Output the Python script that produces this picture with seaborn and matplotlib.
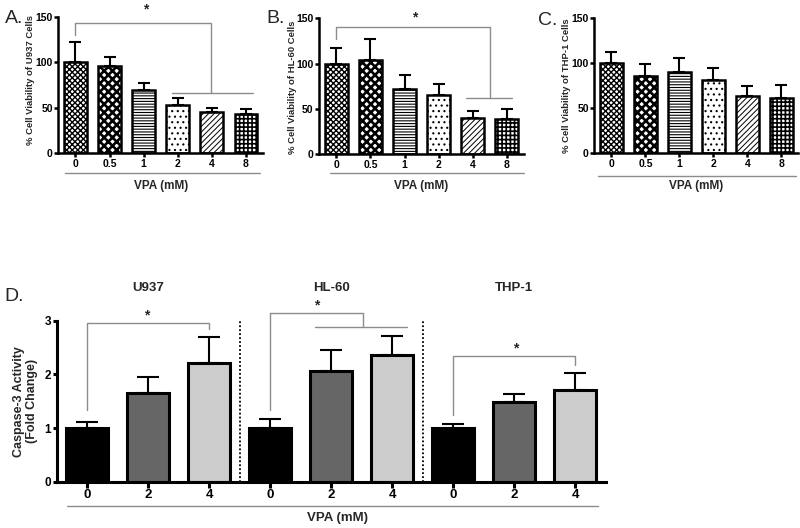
import matplotlib
matplotlib.use('Agg')
import matplotlib.pyplot as plt
import seaborn as sns
import numpy as np
import pandas as pd

# panels A-C: cell viability (%) vs VPA dose
doses = ['0', '0.5', '1', '2', '4', '8']
u937_viab = [100, 96, 69, 53.5, 45, 43.6]
u937_err = [22.7, 10, 8.6, 7, 4.5, 5.1]
hl60_viab = [100, 104, 72.2, 65.2, 40.2, 39]
hl60_err = [16.8, 22.6, 14.8, 12.2, 7.8, 11]
thp1_viab = [100, 86, 89.6, 80.7, 63, 61.5]
thp1_err = [12.6, 13.3, 15.9, 13.7, 11.8, 14.5]

# panel D: caspase-3 activity (fold change)
casp_cells = ['U937', 'HL-60', 'THP-1']
casp_doses = ['0', '2', '4']
casp_u937 = [1.0, 1.66, 2.22]
casp_u937_err = [0.12, 0.29, 0.47]
casp_hl60 = [1.0, 2.07, 2.36]
casp_hl60_err = [0.16, 0.38, 0.35]
casp_thp1 = [1.0, 1.49, 1.71]
casp_thp1_err = [0.08, 0.14, 0.31]

sns.set_theme(style='ticks')
plt.rcParams['font.family'] = ['Liberation Sans', 'DejaVu Sans']
plt.rcParams['font.weight'] = 'bold'
plt.rcParams['axes.labelweight'] = 'bold'
plt.rcParams['hatch.linewidth'] = 0.8

# one hatch (and hatch line width) per dose
hatches = ['xxxxxx', 'xxxx', '------', '...', '//////', '++++']
hatch_lws = [1.0, 1.9, 0.8, 0.8, 0.7, 1.2]
GRAY = '#8c8c8c'

fig = plt.figure(figsize=(8, 5.28), dpi=100)
fig.patch.set_facecolor('white')


def style_axis(ax, lw=1.8):
    sns.despine(ax=ax)
    for s in ['left', 'bottom']:
        ax.spines[s].set_linewidth(lw)
        ax.spines[s].set_color('black')
    ax.tick_params(axis='both', direction='out', width=lw, length=3, pad=1,
                   color='black', labelcolor='black')


def under_line(ax, x0, x1, y):
    ax.plot([x0, x1], [y, y], transform=ax.transAxes, color=GRAY, lw=1, clip_on=False)


def bracket(ax, xs, ys):
    ax.plot(xs, ys, color=GRAY, lw=1, clip_on=False)


def viability_panel(ax, values, errs, ylabel, lab_x, lab_y):
    df = pd.DataFrame({'dose': doses, 'viability': values})
    sns.barplot(data=df, x='dose', y='viability', order=doses, color='white',
                edgecolor='black', linewidth=1.8, width=0.67, errorbar=None,
                saturation=1, ax=ax)
    for bar, h, hlw in zip(ax.patches, hatches, hatch_lws):
        bar.set_hatch(h)
        bar.set_facecolor('white')
        if hasattr(bar, 'set_hatch_linewidth'):
            bar.set_hatch_linewidth(hlw)
    ax.errorbar(np.arange(len(doses)), values,
                yerr=[np.zeros(len(values)), errs], fmt='none', ecolor='black',
                elinewidth=1.5, capsize=4.4, capthick=1.5, zorder=0.5)
    ax.set_ylim(0, 150)
    ax.set_yticks([0, 50, 100, 150])
    ax.set_xlim(-0.5, 5.5)
    style_axis(ax)
    ax.tick_params(labelsize=7.5)
    ax.set_xlabel('VPA (mM)', fontsize=8.5, va='top')
    ax.xaxis.set_label_coords(0.5, -0.195)
    ax.set_ylabel(ylabel, fontsize=6.8)
    ax.yaxis.set_label_coords(lab_x, lab_y)


# A
axA = fig.add_axes([0.0729, 0.7097, 0.256, 0.2587])
viability_panel(axA, u937_viab, u937_err, '% Cell Viability of U937 Cells', -0.112, 0.54)
under_line(axA, 0.033, 0.985, -0.144)
bracket(axA, [0, 0, 3.96, 3.96], [130, 143.6, 143.6, 66.7])
bracket(axA, [2.83, 5.19], [66.7, 66.7])
axA.text(2.05, 158, '*', ha='center', va='center', fontsize=10)

# B
axB = fig.add_axes([0.399, 0.7083, 0.256, 0.257])
viability_panel(axB, hl60_viab, hl60_err, '% Cell Viability of HL-60 Cells', -0.108, 0.49)
under_line(axB, 0.054, 0.998, -0.14)
bracket(axB, [0, 0, 4.49, 4.49], [126.8, 140.8, 140.8, 61.6])
bracket(axB, [3.8, 5.15], [61.6, 61.6])
axB.text(2.3, 151, '*', ha='center', va='center', fontsize=10)

# C
axC = fig.add_axes([0.743, 0.7097, 0.255, 0.2565])
viability_panel(axC, thp1_viab, thp1_err, '% Cell Viability of THP-1 Cells', -0.116, 0.5)
under_line(axC, 0.018, 0.99, -0.166)

# D
axD = fig.add_axes([0.0709, 0.0877, 0.686, 0.305])
casp_vals = [casp_u937, casp_hl60, casp_thp1]
casp_errs = [casp_u937_err, casp_hl60_err, casp_thp1_err]
rows = []
for cell, vals, errs in zip(casp_cells, casp_vals, casp_errs):
    for d, v, e in zip(casp_doses, vals, errs):
        rows.append({'key': cell + ' ' + d, 'dose': d, 'fold': v, 'err': e})
dfD = pd.DataFrame(rows)
dose_colors = {'0': 'black', '2': '#666666', '4': '#cccccc'}
sns.barplot(data=dfD, x='key', y='fold', order=list(dfD['key']), hue='dose',
            palette=dose_colors, edgecolor='black', linewidth=2.2, width=0.68,
            errorbar=None, saturation=1, legend=False, dodge=False, ax=axD)
axD.errorbar(np.arange(len(dfD)), dfD['fold'], yerr=[np.zeros(len(dfD)), dfD['err']],
             fmt='none', ecolor='black', elinewidth=1.5, capsize=7.8, capthick=1.5,
             zorder=0.5)
axD.set_xlim(-0.5, len(dfD) - 0.5)
axD.set_ylim(0, 3)
axD.set_yticks([0, 1, 2, 3])
axD.set_xticks(np.arange(len(dfD)))
axD.set_xticklabels(dfD['dose'])
style_axis(axD, lw=2.2)
axD.tick_params(axis='x', labelsize=9.5, length=4)
axD.tick_params(axis='y', labelsize=8.5)
for xv in [2.5, 5.5]:
    axD.axvline(xv, ymin=0, ymax=1, color='black', ls=(0, (1, 1.2)), lw=1.3)
for i, cell in enumerate(casp_cells):
    axD.text(3 * i + 1, 3.61, cell, ha='center', va='center', fontsize=9.5, clip_on=False)
axD.set_xlabel('VPA (mM)', fontsize=9.5, va='top')
axD.xaxis.set_label_coords(0.512, -0.188)
axD.set_ylabel('Caspase-3 Activity\n(Fold Change)', fontsize=9, linespacing=1.1)
axD.yaxis.set_label_coords(-0.034, 0.5)
under_line(axD, 0.019, 0.986, -0.151)
bracket(axD, [0, 0, 2, 2], [1.34, 2.96, 2.96, 2.84])
axD.text(0.97, 3.1, '*', ha='center', va='center', fontsize=10, clip_on=False)
bracket(axD, [3, 3, 4.53, 4.53], [1.34, 3.14, 3.14, 2.88])
bracket(axD, [3.74, 5.25], [2.88, 2.88])
axD.text(3.77, 3.29, '*', ha='center', va='center', fontsize=10, clip_on=False)
bracket(axD, [6, 6, 8, 8], [1.24, 2.35, 2.35, 2.18])
axD.text(7.03, 2.48, '*', ha='center', va='center', fontsize=10, clip_on=False)

# panel letters
for x, y, s in [(0.006, 0.956, 'A.'), (0.333, 0.956, 'B.'), (0.672, 0.953, 'C.'), (0.006, 0.43, 'D.')]:
    fig.text(x, y, s, fontsize=14, fontweight='normal', ha='left', va='baseline')

fig.savefig('out.png', dpi=100, facecolor='white')
